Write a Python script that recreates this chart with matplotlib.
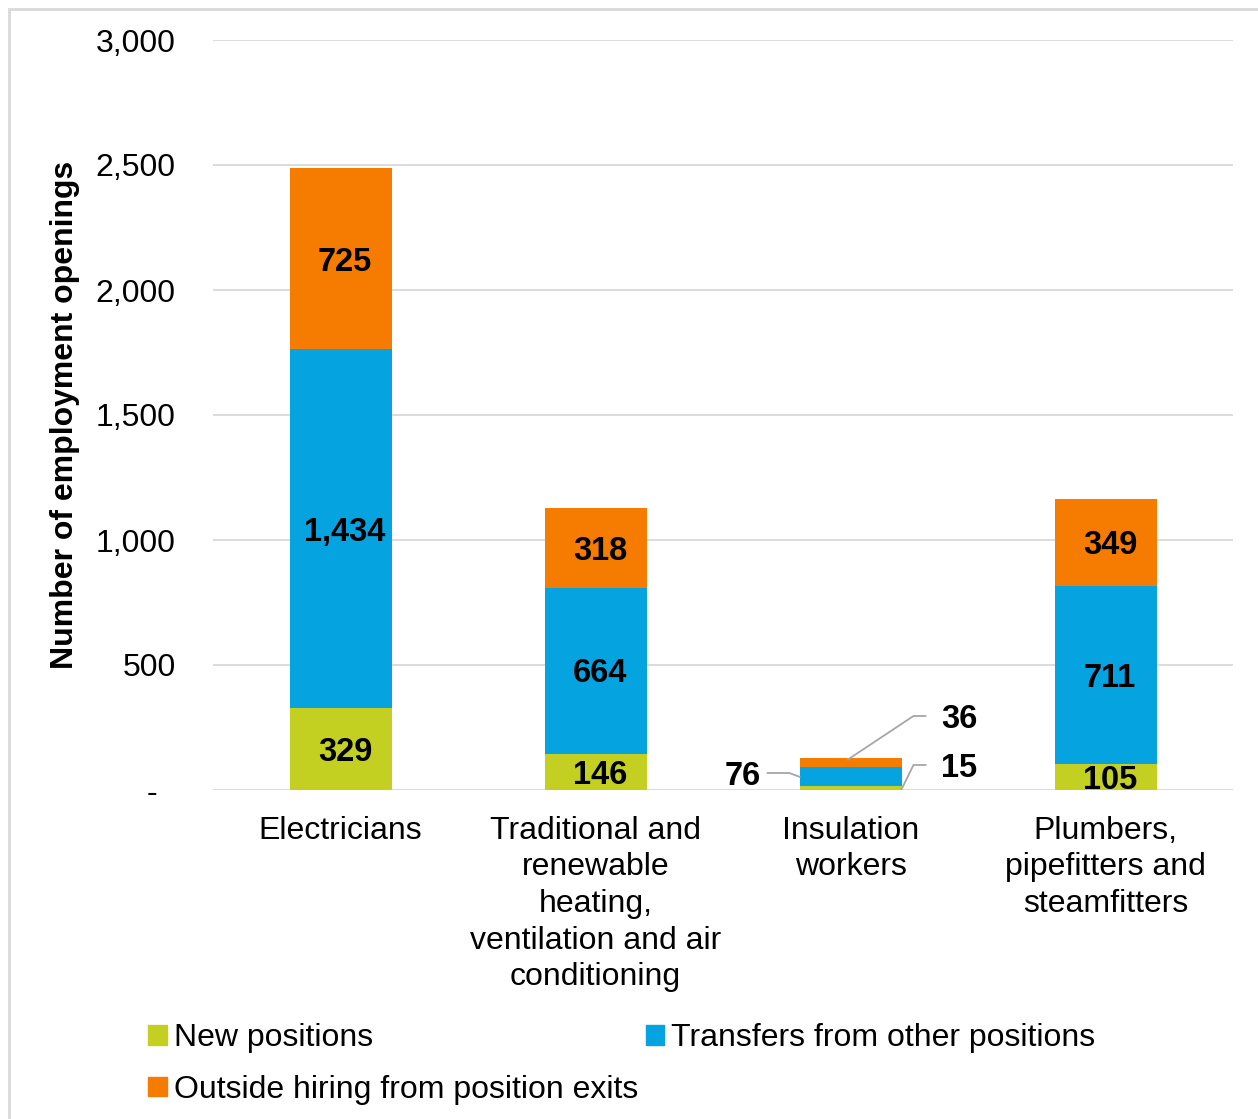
import numpy as np
import matplotlib.pyplot as plt
from matplotlib.patches import Rectangle, Patch

plt.rcParams['font.family'] = ['Liberation Sans', 'DejaVu Sans']

categories = ["Electricians",
              "Traditional and\nrenewable\nheating,\nventilation and air\nconditioning",
              "Insulation\nworkers",
              "Plumbers,\npipefitters and\nsteamfitters"]
new_positions = [329, 146, 15, 105]
transfers = [1434, 664, 76, 711]
outside_hiring = [725, 318, 36, 349]

series_names = ["New positions", "Transfers from other positions",
                "Outside hiring from position exits"]
colors = ["#C3CF21", "#05A3DF", "#F57C00"]

fs = 23
fig = plt.figure(figsize=(12.58, 11.19), dpi=100)
ax = fig.add_axes([213 / 1258, 1 - 790 / 1119, 1020 / 1258, 750 / 1119])

# light grey frame around the whole chart
fig.patches.append(Rectangle((9 / 1258, -0.01), 1.1, 1 - 9 / 1119 + 0.01,
                             transform=fig.transFigure, fill=False,
                             edgecolor="#D9D9D9", linewidth=2))

x = np.arange(len(categories))
width = 0.4
bottom = np.zeros(len(categories))
all_series = [new_positions, transfers, outside_hiring]
for vals, col in zip(all_series, colors):
    vals = np.array(vals)
    ax.bar(x, vals, width, bottom=bottom, color=col, zorder=3)
    for i, v in enumerate(vals):
        if categories[i] == "Insulation\nworkers":
            continue
        ax.text(x[i] + 0.018, bottom[i] + v / 2, f"{v:,}", ha="center",
                va="center_baseline", fontsize=fs + 0.5, fontweight="bold", zorder=4)
    bottom += vals

# callout labels for the small insulation bar
i = 2
ins = [new_positions[i], transfers[i], outside_hiring[i]]
lc = "#A6A6A6"
# 76 on the left
y76 = ins[0] + ins[1] / 2
ax.plot([x[i] - width / 2, x[i] - width / 2 - 0.04, x[i] - width / 2 - 0.125],
        [y76, y76 + 15, y76 + 15], color=lc, lw=1.3, zorder=4)
ax.text(x[i] - width / 2 - 0.15, y76 + 15, f"{ins[1]:,}", ha="right",
        va="center_baseline", fontsize=fs + 0.5, fontweight="bold")
# 15 on the right
ax.plot([x[i] + width / 2, x[i] + width / 2 + 0.047, x[i] + width / 2 + 0.094],
        [ins[0] / 2 - 5, 100, 100], color=lc, lw=1.3, zorder=4)
ax.text(x[i] + width / 2 + 0.155, 100, f"{ins[0]:,}", ha="left",
        va="center_baseline", fontsize=fs + 0.5, fontweight="bold")
# 36 on the right, above
ytop = sum(ins)
ax.plot([x[i] - 0.01, x[i] + width / 2 + 0.047, x[i] + width / 2 + 0.094],
        [ytop - 5, 296, 296], color=lc, lw=1.3, zorder=4)
ax.text(x[i] + width / 2 + 0.155, 296, f"{ins[2]:,}", ha="left",
        va="center_baseline", fontsize=fs + 0.5, fontweight="bold")

ax.set_xlim(-0.5, 3.5)
ax.set_ylim(0, 3000)
yt = np.arange(0, 3001, 500)
ax.set_yticks(yt)
ax.set_yticklabels(["-  " if v == 0 else f"{v:,}" for v in yt], fontsize=fs)
ax.set_xticks(x)
ax.set_xticklabels(categories, fontsize=fs, linespacing=1.29)
ax.tick_params(axis="y", length=0, pad=27)
ax.tick_params(axis="x", length=0, pad=18.5)
ax.yaxis.grid(True, color="#D9D9D9", lw=1.3, zorder=0)
ax.set_axisbelow(True)
for s in ax.spines.values():
    s.set_visible(False)
ax.set_ylabel("Number of employment openings", fontsize=fs, fontweight="bold",
              labelpad=11)

handles = [Patch(color=c, label=n) for c, n in zip(colors, series_names)]
order = [0, 2, 1]
fig.legend([handles[k] for k in order], [series_names[k] for k in order],
           ncol=2, loc="upper left", bbox_to_anchor=(148 / 1258, 1 - 1023 / 1119),
           frameon=False, fontsize=fs, handlelength=0.58, handleheight=0.58,
           handletextpad=0.22, columnspacing=0.25, labelspacing=0.68,
           borderaxespad=0, borderpad=0)

fig.savefig("out.png", dpi=100)
